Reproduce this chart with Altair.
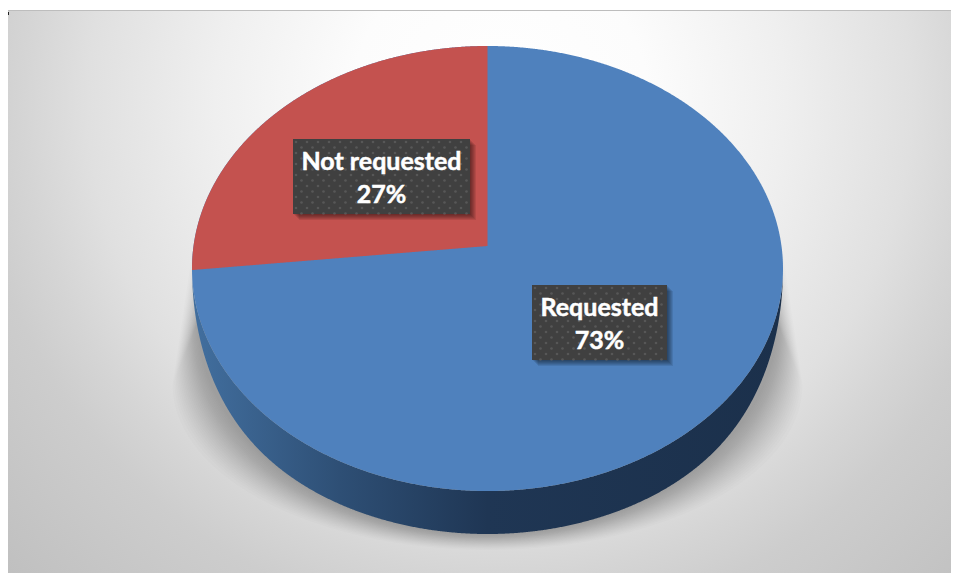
import altair as alt
import numpy as np
import pandas as pd

# --- values
categories = ["Requested", "Not requested"]
shares = [73, 27]                  # printed percentages
drawn_sweep_deg = [269.6, 90.4]    # the sector angles as they appear on the tilted disc
label_cx = [599.5, 381.5]
label_box_w = [135, 177]
label_box_top = [285, 139]
label_box_h = 75
slice_colors = ["#4f81bd", "#c4524f"]

CX, CY, RX, RY, DEPTH = 487.5, 268.5, 295.5, 222.5, 43
APEX_Y = 246
W, H, X0, Y0 = 943, 563, 8, 10

xs = alt.Scale(domain=[X0, X0 + W], range=[0, W], nice=False, zero=False)
ys = alt.Scale(domain=[Y0 + H, Y0], range=[H, 0], nice=False, zero=False)


def enc(chart, y2=True, x2=False):
    kw = dict(x=alt.X("x:Q", scale=xs, axis=None), y=alt.Y("y:Q", scale=ys, axis=None))
    if y2:
        kw["y2"] = alt.Y2("y2:Q")
    if x2:
        kw["x2"] = alt.X2("x2:Q")
    return chart.encode(**kw)


def xgrid(left, right, n=500):
    return left + (right - left) * (1 - np.cos(np.linspace(0, np.pi, n))) / 2


layers = []

# background: oversize rect, so the radial falloff differs across and down; clipped to the plot
bg = pd.DataFrame({"x": [500 - 940], "x2": [500 + 940], "y": [100 - 1056], "y2": [100 + 1056]})
layers.append(enc(alt.Chart(bg).mark_rect(
    clip=True,
    fill=alt.Gradient(gradient="radial", x1=0.5, y1=0.5, r1=0.0, x2=0.5, y2=0.5, r2=0.35,
                      stops=[alt.GradientStop(offset=0, color="#ffffff"),
                             alt.GradientStop(offset=0.2, color="#fcfcfc"),
                             alt.GradientStop(offset=0.386, color="#efefef"),
                             alt.GradientStop(offset=0.557, color="#e0e0e0"),
                             alt.GradientStop(offset=0.643, color="#d5d5d5"),
                             alt.GradientStop(offset=0.714, color="#cdcdcd"),
                             alt.GradientStop(offset=1, color="#bbbbbb")])), x2=True))

# frame
top = pd.DataFrame({"x": [X0], "x2": [X0 + W], "y": [10], "y2": [11]})
layers.append(enc(alt.Chart(top).mark_rect(fill="#bdbdbd"), x2=True))
tick = pd.DataFrame({"x": [8], "x2": [9], "y": [12], "y2": [15]})
layers.append(enc(alt.Chart(tick).mark_rect(fill="#222222"), x2=True))

# soft cast shadow: nested outlines, each a little darker in sum
N = 24
for i in range(N):
    t = (i / (N - 1)) ** 0.85
    cy = 385 + (322 - 385) * t
    rx = 315 + (290 - 315) * t
    ry = 165 + (212 - 165) * t
    x = xgrid(CX - rx, CX + rx)
    low = cy + ry * np.sqrt(np.clip(1 - ((x - CX) / rx) ** 2, 0, 1))
    reach = np.clip((rx - np.abs(x - CX)) / 20, 0, 1)
    up = cy + (250 - cy) * reach
    d = pd.DataFrame({"x": x, "y": low, "y2": up})
    layers.append(enc(alt.Chart(d).mark_area(color="#000000", opacity=0.012, interpolate="linear")))

# side wall
x = xgrid(CX - RX, CX + RX, 800)
edge = CY + RY * np.sqrt(np.clip(1 - ((x - CX) / RX) ** 2, 0, 1))
side = pd.DataFrame({"x": x, "y": edge, "y2": edge + DEPTH * np.sqrt(np.clip(1 - ((x - CX) / RX) ** 8, 0, 1))})
layers.append(enc(alt.Chart(side).mark_area(
    fill=alt.Gradient(gradient="linear", x1=0, y1=0, x2=1, y2=0,
                      stops=[alt.GradientStop(offset=0, color="#426f9f"),
                             alt.GradientStop(offset=0.25, color="#2e4f75"),
                             alt.GradientStop(offset=0.5, color="#1f3654"),
                             alt.GradientStop(offset=1, color="#1b304b")]))))

# top face: whole disc, then the smaller sector over it
top_face = pd.DataFrame({"x": x, "y": edge, "y2": 2 * CY - edge})
layers.append(enc(alt.Chart(top_face).mark_area(color=slice_colors[0])))

theta = np.radians(drawn_sweep_deg[1])
bx, by = CX - RX * np.sin(theta), CY - RY * np.cos(theta)
xr = xgrid(CX - RX, CX, 500)
upper = CY - RY * np.sqrt(np.clip(1 - ((xr - CX) / RX) ** 2, 0, 1))
line_y = APEX_Y + (by - APEX_Y) * (xr - CX) / (bx - CX)
lower = np.where(xr >= bx, line_y, 2 * CY - upper)
red = pd.DataFrame({"x": xr, "y": lower, "y2": upper})
layers.append(enc(alt.Chart(red).mark_area(color=slice_colors[1])))

# label boxes
for c, w, t0 in zip(label_cx, label_box_w, label_box_top):
    l, r, b = c - w / 2, c + w / 2, t0 + label_box_h
    for k in range(1, 7):
        s = pd.DataFrame({"x": [l + k], "x2": [r + k], "y": [t0 + k], "y2": [b + k]})
        layers.append(enc(alt.Chart(s).mark_rect(fill="#000000", opacity=0.09), x2=True))
    box = pd.DataFrame({"x": [l], "x2": [r], "y": [t0], "y2": [b]})
    layers.append(enc(alt.Chart(box).mark_rect(fill="#404040"), x2=True))
    px, py = [], []
    for j, yy in enumerate(np.arange(t0 + 3, b, 5.5)):
        for xx in np.arange(l + 3 + (j % 2) * 5.5, r, 11):
            px.append(xx)
            py.append(yy)
    dots = pd.DataFrame({"x": px, "y": py})
    layers.append(enc(alt.Chart(dots).mark_point(filled=True, color="#6a6a6a", size=7, opacity=0.55), y2=False))

# label text
rows = []
for cat, sh, c, t0 in zip(categories, shares, label_cx, label_box_top):
    rows.append({"x": c, "y": t0 + 23, "t": cat})
    rows.append({"x": c, "y": t0 + 56, "t": f"{sh}%"})
text = pd.DataFrame(rows)
layers.append(alt.Chart(text).mark_text(font="Lato", fontWeight="bold", fontSize=25, color="#ffffff",
                                        stroke="#ffffff", strokeWidth=0.5,
                                        align="center", baseline="middle").encode(
    x=alt.X("x:Q", scale=xs, axis=None), y=alt.Y("y:Q", scale=ys, axis=None), text="t:N"))

chart = alt.layer(*layers).properties(
    width=W, height=H, padding={"left": 0, "top": 2, "right": 0, "bottom": 0},
    autosize=alt.AutoSizeParams(type="none"), background="#ffffff"
).configure_view(stroke=None)

chart.save("out.html", embed_options={"renderer": "svg", "actions": False})
